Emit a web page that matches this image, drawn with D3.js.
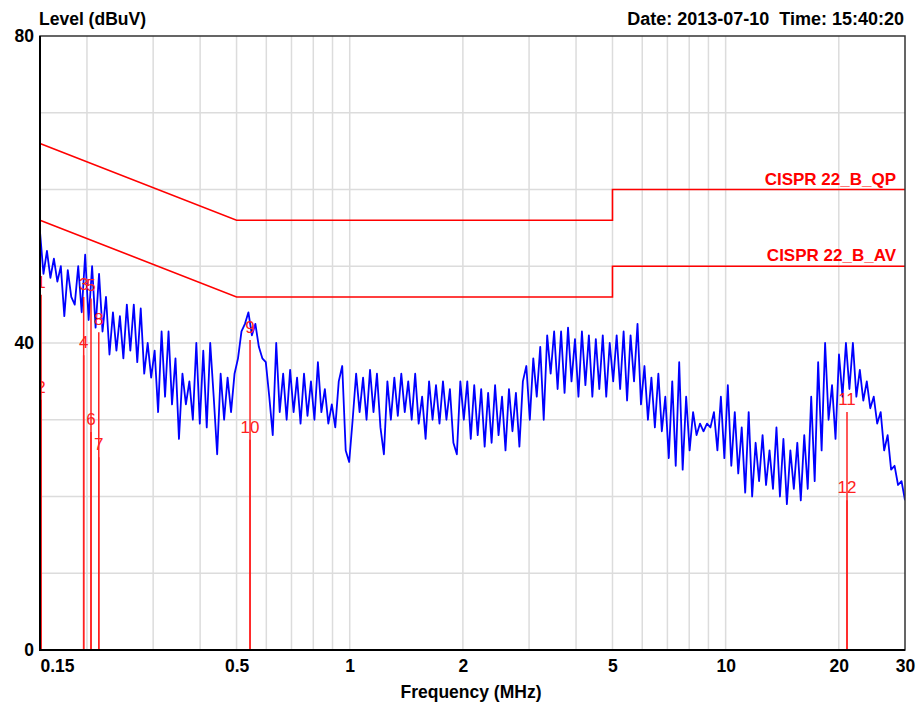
<!DOCTYPE html>
<html>
<head>
<meta charset="utf-8">
<script src="https://cdn.jsdelivr.net/npm/d3@7"></script>
<style>
    body { margin: 0; background: #fff; }
    svg { display: block; }
    text { font-family: "Liberation Sans", Arial, sans-serif; }
</style>
</head>
<body>
<svg width="919" height="706"></svg>
<script>
"use strict"

// receiver sweep, log spaced points from start to stop (MHz)
const SWEEP_START = 0.15
const SWEEP_STOP = 30

// peak trace, dBuV
const traceLevels = [
    54.5, 49, 52, 48.5, 51, 48, 50, 43.5, 49.5, 46,
    45, 50, 44, 51.5, 43, 50, 42, 49, 41.5, 46,
    38.5, 44, 39, 43.5, 38, 45, 39, 45, 37.5, 44.5,
    36, 40, 35.5, 39, 31, 41.5, 33, 41.5, 32, 38,
    27.5, 36, 32, 35, 30, 40, 29.5, 39, 29, 40,
    33, 25.5, 36, 30, 35.5, 31, 36, 38, 41.5, 42.5,
    44, 41, 42.5, 39.5, 38, 37.5, 33, 28, 40, 31,
    36, 30, 36.5, 31, 35.5, 29.5, 36, 30.5, 35, 30,
    37.5, 31, 34, 29.5, 32, 29, 35, 37, 26, 24.5,
    30, 36, 31, 35.5, 30, 36.5, 31, 36, 29, 25.5,
    35, 30, 35.5, 30.5, 36, 31, 35, 30, 36, 29.5,
    33, 27.5, 35, 30, 34.5, 29.5, 35, 30, 34, 27,
    25.5, 35, 30, 35, 27.5, 34.5, 28, 34, 26.5, 33.5,
    27, 34.5, 28, 33, 26, 34, 28.5, 33.5, 26.5, 35,
    37, 30, 38, 33, 39.5, 30, 41, 36, 41.5, 34,
    41.5, 33.5, 42, 35, 40.5, 33, 41.5, 34.5, 41, 33,
    40.5, 34, 41, 33, 40, 35, 41, 34, 41.5, 32.5,
    41, 35, 42.5, 32, 37, 30, 35.5, 29, 36, 28.5,
    33, 25, 35, 24, 37.5, 23.5, 33, 26, 31, 28,
    29.5, 28.5, 29.5, 29, 31, 26, 33, 25, 34.5, 24,
    31, 23, 29, 20.5, 31, 20, 27, 22, 28, 21.5,
    26, 21, 29, 20, 27.5, 19, 26, 21, 27, 19.5,
    28, 21, 33, 22, 37.5, 26, 40, 30, 34.5, 27.5,
    38.5, 33, 40, 34, 40, 33, 36.5, 32.5, 35, 31.5,
    33, 29.5, 31, 26, 28, 23.5, 24, 21.5, 22, 19.5
]

// limit lines
const qpFreqs = [0.15, 0.5, 5, 5, 30]
const qpLevels = [66, 56, 56, 60, 60]
const avFreqs = [0.15, 0.5, 5, 5, 30]
const avLevels = [56, 46, 46, 50, 50]
const limitNames = ["CISPR 22_B_QP", "CISPR 22_B_AV"]

// final measurement markers
const markerIds = [1, 2, 3, 4, 5, 6, 7, 8, 9, 10, 11, 12]
const markerFreqs = [0.151, 0.151, 0.196, 0.196, 0.205, 0.205, 0.215, 0.215, 0.543, 0.543, 21.03, 21.03]
const markerLevels = [46.3, 32.6, 46.0, 38.4, 45.8, 28.4, 25.1, 41.4, 40.4, 27.4, 31.0, 19.5]

// axes
const xTickValues = [0.15, 0.5, 1, 2, 5, 10, 20, 30]
const xTickLabels = ["0.15", "0.5", "1", "2", "5", "10", "20", "30"]
const xGridValues = [0.2, 0.3, 0.4, 0.5, 0.6, 0.7, 0.8, 0.9, 1, 2, 3, 4, 5, 6, 7, 8, 9, 10, 20]
const yTickValues = [0, 40, 80]
const yGridValues = [10, 20, 30, 40, 50, 60, 70]

const LEFT = 40
const RIGHT = 905
const TOP = 36
const BOTTOM = 650
const FONT = 17.5

const svg = d3.select("svg")

const x = d3.scaleLog().domain([SWEEP_START, SWEEP_STOP]).range([LEFT, RIGHT])
const y = d3.scaleLinear().domain([0, 80]).range([BOTTOM, TOP])

svg.append("defs")
    .append("clipPath")
    .attr("id", "plot")
    .append("rect")
    .attr("x", LEFT)
    .attr("y", TOP)
    .attr("width", RIGHT - LEFT)
    .attr("height", BOTTOM - TOP)

// grid
svg.append("g")
    .selectAll("line")
    .data(xGridValues)
    .join("line")
    .attr("x1", (d) => x(d))
    .attr("x2", (d) => x(d))
    .attr("y1", TOP)
    .attr("y2", BOTTOM)
    .attr("stroke", "#dcdcdc")
    .attr("stroke-width", 1.5)

svg.append("g")
    .selectAll("line")
    .data(yGridValues)
    .join("line")
    .attr("x1", LEFT)
    .attr("x2", RIGHT)
    .attr("y1", (d) => y(d))
    .attr("y2", (d) => y(d))
    .attr("stroke", "#dcdcdc")
    .attr("stroke-width", 1.5)

// limit lines
const line = d3.line()
    .x((d) => x(d[0]))
    .y((d) => y(d[1]))

const limits = [
    { name: limitNames[0], points: d3.zip(qpFreqs, qpLevels) },
    { name: limitNames[1], points: d3.zip(avFreqs, avLevels) }
]

limits.forEach((limit) => {
    svg.append("path")
        .datum(limit.points)
        .attr("d", line)
        .attr("fill", "none")
        .attr("stroke", "#ff0000")
        .attr("stroke-width", 1.6)

    const last = limit.points[limit.points.length - 1]
    svg.append("text")
        .attr("x", 896)
        .attr("y", y(last[1]) - 5)
        .attr("text-anchor", "end")
        .attr("font-size", "17px")
        .attr("font-weight", "bold")
        .attr("fill", "#ff0000")
        .text(limit.name)
})

// trace
const n = traceLevels.length
const tracePoints = traceLevels.map((level, i) => {
    const freq = SWEEP_START * Math.pow(SWEEP_STOP / SWEEP_START, i / (n - 1))
    return [freq, level]
})

svg.append("path")
    .datum(tracePoints)
    .attr("clip-path", "url(#plot)")
    .attr("d", line)
    .attr("fill", "none")
    .attr("stroke", "#0000ff")
    .attr("stroke-width", 1.8)
    .attr("stroke-linejoin", "round")

// markers, clipped to the plot like the receiver software does
const markers = markerIds.map((id, i) => ({ id, freq: markerFreqs[i], level: markerLevels[i] }))
const markerLayer = svg.append("g").attr("clip-path", "url(#plot)")

markerLayer.append("g")
    .selectAll("line")
    .data(markers)
    .join("line")
    .attr("x1", (d) => x(d.freq))
    .attr("x2", (d) => x(d.freq))
    .attr("y1", y(0))
    .attr("y2", (d) => y(d.level))
    .attr("stroke", "#ff2020")
    .attr("stroke-width", 1.5)

markerLayer.append("g")
    .selectAll("text")
    .data(markers)
    .join("text")
    .attr("x", (d) => x(d.freq))
    .attr("y", (d) => y(d.level) - 7)
    .attr("text-anchor", "middle")
    .attr("font-size", "17px")
    .attr("fill", "#ff2020")
    .text((d) => d.id)

// frame
svg.append("rect")
    .attr("x", LEFT)
    .attr("y", TOP)
    .attr("width", RIGHT - LEFT)
    .attr("height", BOTTOM - TOP)
    .attr("fill", "none")
    .attr("stroke", "#333")
    .attr("stroke-width", 1.5)

svg.append("path")
    .attr("d", `M${LEFT},${TOP}V${BOTTOM}H${RIGHT}`)
    .attr("fill", "none")
    .attr("stroke", "#000")
    .attr("stroke-width", 2)

// axes
const xAxis = d3.axisBottom(x)
    .tickValues(xTickValues)
    .tickFormat((d, i) => xTickLabels[i])
    .tickSize(0)
    .tickPadding(10)

const gx = svg.append("g")
    .attr("transform", `translate(0,${BOTTOM})`)
    .call(xAxis)
gx.select(".domain").remove()
gx.selectAll("text")
    .attr("font-size", `${FONT}px`)
    .attr("font-weight", "bold")
    .attr("font-family", null)
    .attr("fill", "#000")
    .attr("text-anchor", (d, i) => (i === 0 ? "start" : "middle"))

const yAxis = d3.axisLeft(y)
    .tickValues(yTickValues)
    .tickFormat(d3.format("d"))
    .tickSize(0)
    .tickPadding(6)

const gy = svg.append("g")
    .attr("transform", `translate(${LEFT},0)`)
    .call(yAxis)
gy.select(".domain").remove()
gy.selectAll("text")
    .attr("font-size", `${FONT}px`)
    .attr("font-weight", "bold")
    .attr("font-family", null)
    .attr("fill", "#000")

// titles
svg.append("text")
    .attr("x", 39)
    .attr("y", 25)
    .attr("font-size", `${FONT}px`)
    .attr("font-weight", "bold")
    .text("Level (dBuV)")

svg.append("text")
    .attr("x", 904)
    .attr("y", 25)
    .attr("text-anchor", "end")
    .attr("font-size", "18px")
    .attr("font-weight", "bold")
    .style("white-space", "pre")
    .text("Date: 2013-07-10  Time: 15:40:20")

svg.append("text")
    .attr("x", 471)
    .attr("y", 698)
    .attr("text-anchor", "middle")
    .attr("font-size", `${FONT}px`)
    .attr("font-weight", "bold")
    .text("Frequency (MHz)")
</script>
</body>
</html>
